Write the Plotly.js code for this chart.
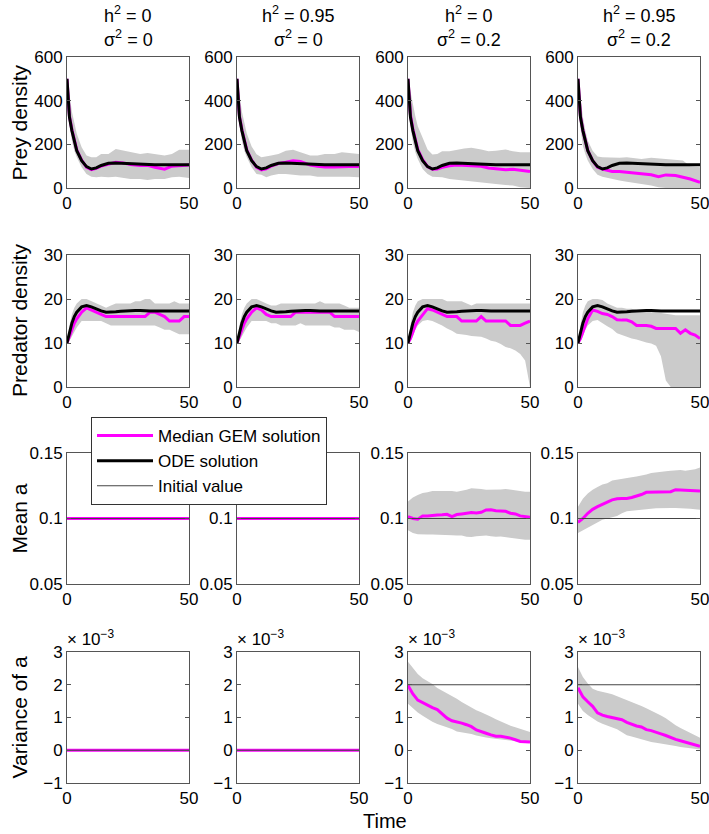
<!DOCTYPE html>
<html>
<head>
<meta charset="utf-8">
<script src="https://cdn.plot.ly/plotly-3.0.1.min.js"></script>
<style>
  body { margin: 0; background: #fff; }
  #myDiv { width: 709px; height: 834px; }
</style>
</head>
<body>
<div id="myDiv"></div>
<script>
// time grids
var tPrey = [0,1,2,3,4,6,8,10,12,14,17,20,23,26,30,33,36,40,43,46,50];
var tPred = [0,1,2,3,4,6,8,10,12,14,16,18,20,22,24,26,28,30,32,34,36,38,40,42,44,46,48,50];
var tTrait = [0,2,4,6,8,10,12,14,16,18,20,22,24,26,28,30,32,34,36,38,40,42,44,46,48,50];
var tFlat = [0,50];

// prey density
var odePrey = [500,325,263,210,171,125,98,87,92,103,113,115,113,111,108,107,107,107,107,107,107];
var preyMed1 = [500,330,268,215,175,128,95,84,90,100,110,118,115,108,103,104,95,86,100,103,105];
var preyMed2 = [500,330,268,215,175,128,95,83,88,100,112,118,125,122,105,100,96,96,98,98,98];
var preyMed3 = [500,335,270,217,177,130,98,86,87,95,102,105,103,101,100,92,90,84,86,82,75];
var preyMed4 = [500,330,265,212,172,125,95,87,82,76,76,72,67,64,61,52,60,57,49,41,26];
var preyUp1 = [500,430,350,294,248,187,149,141,141,156,156,179,171,164,156,160,156,149,156,175,175];
var preyUp2 = [500,430,350,294,250,190,155,141,144,149,156,171,175,164,149,149,156,156,164,160,156];
var preyUp3 = [500,444,383,329,283,230,176,153,156,168,168,176,181,184,176,168,171,176,168,164,164];
var preyUp4 = [500,416,325,263,217,171,144,141,138,138,138,141,138,133,138,138,133,129,126,100,95];
var preyLo1 = [360,279,217,171,141,95,64,52,49,52,49,52,46,41,41,37,41,41,49,52,46];
var preyLo2 = [360,279,217,171,141,95,64,61,49,57,64,64,61,57,57,52,52,52,54,52,49];
var preyLo3 = [360,279,210,164,133,87,64,52,52,49,41,37,34,29,26,21,18,14,11,3,0];
var preyLo4 = [360,263,194,156,126,87,61,52,46,41,34,29,25,18,11,3,0,0,0,0,0];

// predator density
var odePred = [10,12.5,14.5,16,17,18.2,18.5,18.2,17.7,17.3,17,17,17.1,17.2,17.3,17.4,17.4,17.4,17.3,17.3,17.3,17.3,17.3,17.3,17.3,17.3,17.3,17.3];
var predMed1 = [10,11.5,13,14.5,15.5,17,18,17.5,17,16.5,16,16,16,16,16,16,16,16,16,17,17,16.5,16,15,15,15,16,16];
var predMed2 = [10,11.5,13,14.5,15.5,17,18,17.5,16.5,16,16,16,16,16,17,17,17,17,17,17,17,17,16,16,16,16,16,16];
var predMed3 = [10,11,12.5,14,15,16.5,17.8,17.5,17,16.5,16,16,16,15,15,15,15,16,15,15,15,15,15,14,14,14,14.5,15];
var predMed4 = [10,11,12.5,14,15.5,17.5,17.2,16.7,16.5,16,15.3,15.2,15.2,14.8,14,14,14,13.8,13.3,13.3,13.3,13.3,13.3,12.2,13,12.2,11.8,11];
var predUp1 = [10,14,16.5,18,19,20,20,19.5,19,18.5,18,18.5,19,19,19,19,19.5,19.5,20,20,19,19,19,19,19.5,19,19,19];
var predUp2 = [10,14,16.5,18,19,20,20,19.5,19,18.5,18.5,19,19,19,19,19,19,19,19,19.5,19,19,19,19,18.5,18,18,18];
var predUp3 = [10,14,17,18.5,19.5,20,20,20,20,20,19.5,19.5,19.5,19.5,19,18.5,19,19,19,19,19,19,19,19,19,19,19,19];
var predUp4 = [10,14,17,18.5,19.5,20,20,19.8,19,18.5,18,18,17.8,17.8,17.5,17.5,17.3,17,17,16.8,16.7,16.5,16.3,16.3,16.3,16.3,16.3,16.3];
var predLo1 = [10,10.5,11.5,12.5,13.5,15,15,15,15,15,14.5,14,14,14,14,14,14,14,14,14,14,13.5,13,13,12.5,12,12,12];
var predLo2 = [10,10.5,11.5,12.5,13.5,15,15,15,15,14.5,14.5,14,14,14,14,14.5,14,14,14,14,14,14,13.5,13.5,13,13,13,12.5];
var predLo3 = [10,10.5,11.5,13,14,15,15.2,15,14.5,14,13.3,12.8,12.1,12,11.8,11.6,11.5,11.4,11,10.5,10.3,9.8,9.1,8.8,8.3,7.5,6,0];
var predLo4 = [10,10.5,11.5,13,14,15,15.2,14.4,13.8,13.2,12.2,11.8,11.4,11,10.8,10.4,10.1,9.9,9.4,7,1.5,0,0,0,0,0,0,0];

// mean a
var meanFlat = [0.1,0.1];
var meanMed3 = [0.1015,0.1,0.0995,0.102,0.102,0.1025,0.1027,0.1028,0.1032,0.1015,0.103,0.1035,0.104,0.1045,0.1042,0.1047,0.1065,0.1067,0.106,0.1058,0.1055,0.104,0.1035,0.102,0.1015,0.101];
var meanUp3 = [0.113,0.116,0.118,0.1195,0.12,0.121,0.121,0.1212,0.121,0.121,0.1205,0.121,0.122,0.123,0.1225,0.1225,0.122,0.122,0.122,0.1222,0.1225,0.122,0.122,0.121,0.1205,0.1205];
var meanLo3 = [0.091,0.089,0.088,0.0877,0.0877,0.0877,0.0877,0.0877,0.0875,0.0873,0.087,0.087,0.086,0.0858,0.0865,0.087,0.087,0.0865,0.086,0.0862,0.0857,0.085,0.0845,0.084,0.0838,0.0838];
var meanMed4 = [0.097,0.1,0.104,0.107,0.109,0.111,0.1125,0.1142,0.115,0.1152,0.1152,0.116,0.117,0.1183,0.12,0.12,0.12,0.12,0.1205,0.1205,0.122,0.1218,0.1215,0.121,0.1212,0.121];
var meanUp4 = [0.109,0.115,0.119,0.122,0.124,0.126,0.127,0.129,0.13,0.1305,0.131,0.1315,0.132,0.1325,0.1335,0.1347,0.135,0.1355,0.136,0.1365,0.137,0.137,0.1365,0.137,0.1375,0.139];
var meanLo4 = [0.089,0.091,0.093,0.095,0.097,0.099,0.1,0.101,0.102,0.104,0.1055,0.106,0.1065,0.107,0.1072,0.1075,0.1078,0.108,0.108,0.108,0.108,0.108,0.1078,0.1075,0.107,0.1067];

// variance of a (x 10^-3)
var varFlat = [0,0];
var varMed3 = [1.98,1.72,1.53,1.45,1.37,1.3,1.24,1.1,0.98,0.9,0.87,0.83,0.78,0.72,0.62,0.58,0.52,0.47,0.43,0.43,0.41,0.37,0.32,0.27,0.26,0.25];
var varUp3 = [2.7,2.5,2.33,2.2,2.1,2.02,1.9,1.8,1.72,1.65,1.57,1.47,1.38,1.3,1.22,1.16,1.1,1.02,0.95,0.88,0.81,0.75,0.7,0.64,0.6,0.56];
var varLo3 = [1.42,1.28,1.15,1.05,0.95,0.87,0.8,0.75,0.7,0.65,0.57,0.55,0.52,0.5,0.45,0.41,0.39,0.37,0.35,0.33,0.31,0.29,0.27,0.25,0.24,0.22];
var varMed4 = [1.91,1.63,1.48,1.34,1.14,1.07,1.03,1.0,0.97,0.93,0.85,0.79,0.74,0.71,0.63,0.6,0.56,0.5,0.45,0.38,0.33,0.29,0.25,0.21,0.15,0.12];
var varUp4 = [2.54,2.24,2.04,1.88,1.82,1.78,1.75,1.71,1.66,1.6,1.53,1.47,1.41,1.35,1.28,1.22,1.14,1.06,0.98,0.87,0.76,0.68,0.6,0.52,0.45,0.38];
var varLo4 = [1.42,1.2,1.08,0.97,0.88,0.81,0.75,0.7,0.64,0.55,0.46,0.42,0.38,0.33,0.28,0.25,0.23,0.21,0.18,0.15,0.13,0.1,0.08,0.06,0.04,0.02];

// initial values per column
var initMean = [0.1,0.1,0.1,0.1];
var initVar = [0,0,2,2];

// labels
var colH2 = ['0','0.95','0','0.95'];
var colSigma2 = ['0','0','0.2','0.2'];
var rowTitles = ['Prey density','Predator density','Mean a','Variance of a'];
var rowTicks = [[0,200,400,600],[0,10,20,30],[0.05,0.1,0.15],[-1,0,1,2,3]];
var rowRanges = [[0,600],[0,30],[0.05,0.15],[-1,3]];

// page geometry (pixels)
var W = 709, H = 834;
var colPx = [[67,189],[237,359],[408,530],[578,700]];
var rowPx = [[57,188],[255,387],[453,584],[652,783]];
var FONT = 'Liberation Sans, Arial, sans-serif';
var MAGENTA = '#ff00ff';
var BAND = '#cbcbcb';

function fx(p) { return p / W; }
function fy(p) { return 1 - p / H; }

// panels: [t, median, upper, lower, ode, init]
var panels = [
  [
    [tPrey, preyMed1, preyUp1, preyLo1, odePrey, null],
    [tPrey, preyMed2, preyUp2, preyLo2, odePrey, null],
    [tPrey, preyMed3, preyUp3, preyLo3, odePrey, null],
    [tPrey, preyMed4, preyUp4, preyLo4, odePrey, null]
  ],
  [
    [tPred, predMed1, predUp1, predLo1, odePred, null],
    [tPred, predMed2, predUp2, predLo2, odePred, null],
    [tPred, predMed3, predUp3, predLo3, odePred, null],
    [tPred, predMed4, predUp4, predLo4, odePred, null]
  ],
  [
    [tFlat, meanFlat, null, null, null, initMean[0]],
    [tFlat, meanFlat, null, null, null, initMean[1]],
    [tTrait, meanMed3, meanUp3, meanLo3, null, initMean[2]],
    [tTrait, meanMed4, meanUp4, meanLo4, null, initMean[3]]
  ],
  [
    [tFlat, varFlat, null, null, null, initVar[0]],
    [tFlat, varFlat, null, null, null, initVar[1]],
    [tTrait, varMed3, varUp3, varLo3, null, initVar[2]],
    [tTrait, varMed4, varUp4, varLo4, null, initVar[3]]
  ]
];

var data = [];
var layout = {
  width: W, height: H,
  margin: {l: 0, r: 0, t: 0, b: 0},
  paper_bgcolor: 'white',
  plot_bgcolor: 'white',
  font: {family: FONT, size: 17, color: 'black'},
  showlegend: true,
  legend: {
    x: fx(91), y: fy(417), xanchor: 'left', yanchor: 'top',
    bgcolor: 'white', bordercolor: '#333', borderwidth: 1,
    font: {family: FONT, size: 17, color: 'black'},
    itemwidth: 56, tracegroupgap: 0
  },
  annotations: []
};

var legendDone = {median: false, ode: false, init: false};

for (var r = 0; r < 4; r++) {
  for (var c = 0; c < 4; c++) {
    var idx = r * 4 + c;
    var s = idx === 0 ? '' : String(idx + 1);
    var xa = 'x' + s, ya = 'y' + s;
    var p = panels[r][c];
    var t = p[0];

    if (p[2]) {
      data.push({
        x: t.concat(t.slice().reverse()),
        y: p[3].concat(p[2].slice().reverse()),
        xaxis: xa, yaxis: ya,
        mode: 'lines', fill: 'toself', fillcolor: BAND,
        line: {width: 0, color: BAND},
        hoverinfo: 'skip', showlegend: false
      });
    }
    data.push({
      x: t, y: p[1], xaxis: xa, yaxis: ya, mode: 'lines',
      line: {color: MAGENTA, width: 3},
      name: 'Median GEM solution',
      showlegend: !legendDone.median
    });
    legendDone.median = true;
    if (p[4]) {
      data.push({
        x: t, y: p[4], xaxis: xa, yaxis: ya, mode: 'lines',
        line: {color: 'black', width: 3},
        name: 'ODE solution',
        showlegend: !legendDone.ode
      });
      legendDone.ode = true;
    }
    if (p[5] !== null) {
      data.push({
        x: tFlat, y: [p[5], p[5]], xaxis: xa, yaxis: ya, mode: 'lines',
        line: {color: '#444', width: 1},
        name: 'Initial value',
        showlegend: !legendDone.init
      });
      legendDone.init = true;
    }

    var axCommon = {
      showline: true, mirror: 'ticks', linecolor: '#555', linewidth: 1,
      ticks: 'inside', ticklen: 4, tickcolor: '#555',
      showgrid: false, zeroline: false, fixedrange: true,
      ticklabeloverflow: 'allow',
      tickfont: {family: FONT, size: 17, color: 'black'}
    };
    var yticktext = rowTicks[r].map(function (v) { return v < 0 ? '\u2212' + Math.abs(v) : String(v); });
    // the legend box sits over this tick label in the original
    if (r === 2 && c === 1) yticktext[2] = '';
    layout['xaxis' + s] = Object.assign({}, axCommon, {
      domain: [fx(colPx[c][0]), fx(colPx[c][1])],
      range: [0, 50], tickvals: [0, 50], anchor: ya
    });
    layout['yaxis' + s] = Object.assign({}, axCommon, {
      domain: [fy(rowPx[r][1]), fy(rowPx[r][0])],
      range: rowRanges[r], tickvals: rowTicks[r], ticktext: yticktext, anchor: xa
    });
  }
}

// column headers
for (var c2 = 0; c2 < 4; c2++) {
  var cx = fx((colPx[c2][0] + colPx[c2][1]) / 2);
  layout.annotations.push({
    xref: 'paper', yref: 'paper', x: cx, y: fy(14), xanchor: 'center', yanchor: 'middle',
    text: 'h<sup>2</sup> = ' + colH2[c2], showarrow: false, font: {size: 18}
  });
  layout.annotations.push({
    xref: 'paper', yref: 'paper', x: cx, y: fy(38), xanchor: 'center', yanchor: 'middle',
    text: '\u03c3<sup>2</sup> = ' + colSigma2[c2], showarrow: false, font: {size: 18}
  });
  // exponent label for variance row
  layout.annotations.push({
    xref: 'paper', yref: 'paper', x: fx(colPx[c2][0] - 2), y: fy(638), xanchor: 'left', yanchor: 'middle',
    text: '\u00d7 10<sup>\u22123</sup>', showarrow: false, font: {size: 17}
  });
}

// row titles
for (var r2 = 0; r2 < 4; r2++) {
  layout.annotations.push({
    xref: 'paper', yref: 'paper', x: fx(19), y: fy((rowPx[r2][0] + rowPx[r2][1]) / 2),
    xanchor: 'center', yanchor: 'middle', textangle: -90,
    text: rowTitles[r2], showarrow: false, font: {size: 21}
  });
}

layout.annotations.push({
  xref: 'paper', yref: 'paper', x: fx(385), y: fy(821), xanchor: 'center', yanchor: 'middle',
  text: 'Time', showarrow: false, font: {size: 20}
});

Plotly.newPlot('myDiv', data, layout, {displayModeBar: false, staticPlot: true});
</script>
</body>
</html>
